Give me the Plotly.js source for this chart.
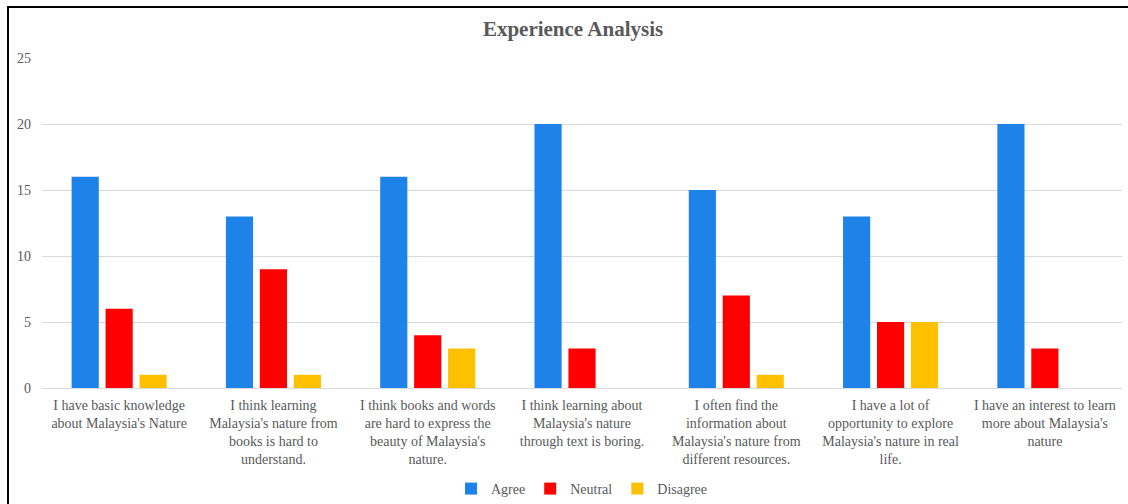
<!DOCTYPE html>
<html>
<head>
<meta charset="utf-8">
<script src="https://cdn.plot.ly/plotly-3.0.1.min.js"></script>
<style>
html,body{margin:0;padding:0;overflow:hidden;background:#fff;}
#wrap{position:relative;width:1128px;height:504px;}
#chart{position:absolute;left:0;top:0;width:1128px;height:504px;}
#frame{position:absolute;left:7px;top:6px;width:1200px;height:600px;border:2px solid #000;pointer-events:none;}
</style>
</head>
<body>
<div id="wrap"><div id="chart"></div><div id="frame"></div></div>
<script>
const categories = [
  "I have basic knowledge<br>about Malaysia's Nature",
  "I think learning<br>Malaysia's nature from<br>books is hard to<br>understand.",
  "I think books and words<br>are hard to express the<br>beauty of Malaysia's<br>nature.",
  "I think learning about<br>Malaysia's nature<br>through text is boring.",
  "I often find the<br>information about<br>Malaysia's nature from<br>different resources.",
  "I have a lot of<br>opportunity to explore<br>Malaysia's nature in real<br>life.",
  "I have an interest to learn<br>more about Malaysia's<br>nature"
];
const agree    = [16, 13, 16, 20, 15, 13, 20];
const neutral  = [6, 9, 4, 3, 7, 5, 3];
const disagree = [1, 1, 3, 0, 1, 5, 0];
const seriesNames = ["Agree", "Neutral", "Disagree"];
const seriesColors = ["#1e83e8", "#ff0000", "#ffc000"];

const font = "'Liberation Serif', 'Times New Roman', serif";
const traces = [agree, neutral, disagree].map((vals, i) => ({
  type: "bar",
  name: seriesNames[i],
  x: categories,
  y: vals,
  marker: {color: seriesColors[i]},
  hoverinfo: "x+y"
}));

const layout = {
  width: 1128, height: 504,
  margin: {l: 42, r: 6, t: 58, b: 116, autoexpand: false},
  paper_bgcolor: "#fff", plot_bgcolor: "#fff",
  title: {text: "<b>Experience Analysis</b>", font: {family: font, size: 21, color: "#595959"}, x: 0.508, xanchor: "center", y: 0.943, yanchor: "middle"},
  font: {family: font, size: 14, color: "#595959"},
  barmode: "group",
  bargap: 0.34,
  bargroupgap: 0.2,
  xaxis: {
    type: "category", showgrid: false, zeroline: false, automargin: false,
    showline: true, linecolor: "#d9d9d9", linewidth: 1,
    ticks: "", tickangle: 0, ticklabelstandoff: 4,
    tickfont: {family: font, size: 14, color: "#595959"}
  },
  yaxis: {
    range: [0, 25], dtick: 5, showgrid: true, gridcolor: "#d9d9d9", gridwidth: 1,
    zeroline: false, showline: false, ticks: "", automargin: false, ticklabelstandoff: 10,
    tickfont: {family: font, size: 14, color: "#595959"}
  },
  legend: {orientation: "h", x: 0.5, xanchor: "center", y: -0.306, yanchor: "middle",
    font: {family: font, size: 14, color: "#595959"}, itemwidth: 30, traceorder: "normal"},
  showlegend: true
};
Plotly.newPlot("chart", traces, layout, {displayModeBar: false, staticPlot: true});
</script>
</body>
</html>
